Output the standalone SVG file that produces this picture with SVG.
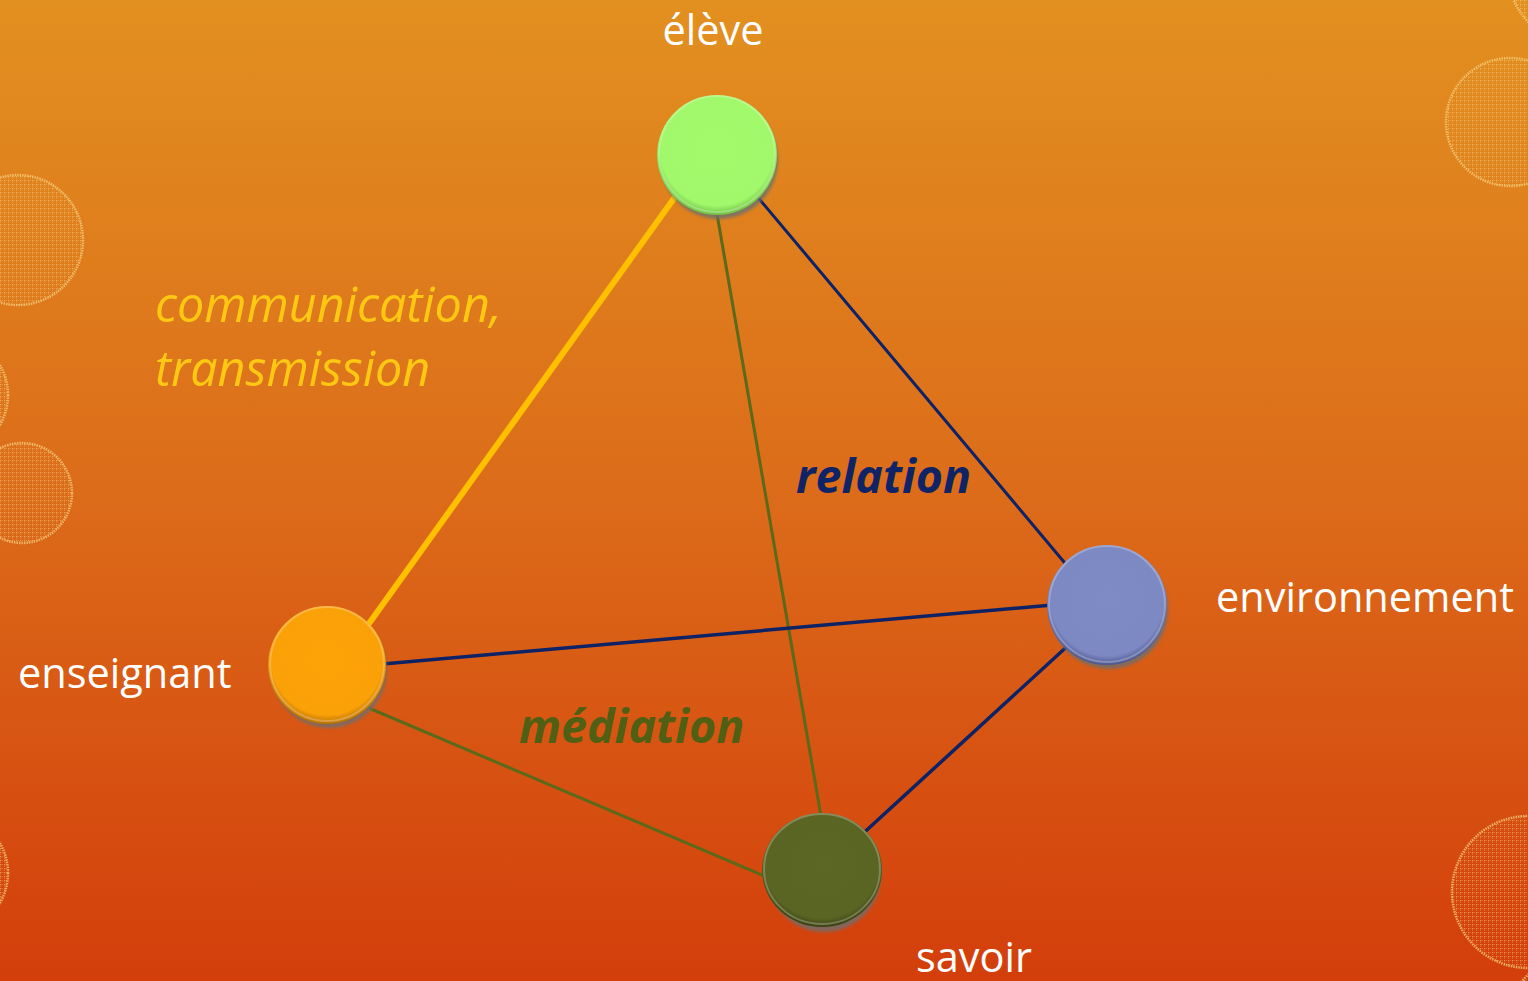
<svg xmlns="http://www.w3.org/2000/svg" width="1528" height="981" viewBox="0 0 1528 981">
  <defs>
    <linearGradient id="bg" x1="0" y1="0" x2="0" y2="1">
      <stop offset="0" stop-color="#E29020"/>
      <stop offset="0.5" stop-color="#DC6C1A"/>
      <stop offset="1" stop-color="#D33E0B"/>
    </linearGradient>
    <pattern id="dots" width="4" height="4" patternUnits="userSpaceOnUse">
      <rect x="0" y="0" width="1.3" height="1.3" fill="#F7D58A" opacity="0.55"/>
      <rect x="2" y="0" width="1" height="1" fill="#F7D58A" opacity="0.3"/>
      <rect x="0" y="2" width="1" height="1" fill="#F7D58A" opacity="0.3"/>
    </pattern>
    <radialGradient id="gGreen" cx="0.5" cy="0.45" r="0.55">
      <stop offset="0" stop-color="#A3FB6C"/>
      <stop offset="0.86" stop-color="#A0F86A"/>
      <stop offset="1" stop-color="#6FBF45"/>
    </radialGradient>
    <radialGradient id="gOrange" cx="0.5" cy="0.45" r="0.55">
      <stop offset="0" stop-color="#FDA308"/>
      <stop offset="0.86" stop-color="#FBA108"/>
      <stop offset="1" stop-color="#B87000"/>
    </radialGradient>
    <radialGradient id="gBlue" cx="0.5" cy="0.45" r="0.55">
      <stop offset="0" stop-color="#7F8BC5"/>
      <stop offset="0.86" stop-color="#7D89C2"/>
      <stop offset="1" stop-color="#4B5590"/>
    </radialGradient>
    <radialGradient id="gOlive" cx="0.5" cy="0.45" r="0.55">
      <stop offset="0" stop-color="#5C6726"/>
      <stop offset="0.86" stop-color="#5A6524"/>
      <stop offset="1" stop-color="#3A4212"/>
    </radialGradient>
    <filter id="soft" x="-20%" y="-20%" width="140%" height="140%">
      <feGaussianBlur stdDeviation="1.5"/>
    </filter>
  </defs>
  <style>
    .deco { fill: url(#dots); stroke: #F5CF7E; stroke-width: 2.5; stroke-dasharray: 1.5 1; stroke-opacity: 0.75; }
    .shadow { fill: #6E6E6E; opacity: 0.8; filter: url(#soft); }
    .rim { fill: none; stroke: #FFFFFF; stroke-opacity: 0.25; stroke-width: 2; }
    .lbl { font-family: "Open Sans", "Liberation Sans", sans-serif; font-size: 41.5px; fill: #FFFFFF; }
    .ital { font-family: "Open Sans", "Liberation Sans", sans-serif; font-style: italic; font-size: 48.5px; }
    .bold { font-weight: bold; font-size: 46.5px; }
  </style>

  <!-- background -->
  <rect x="0" y="0" width="1528" height="981" fill="url(#bg)"/>

  <!-- decorative dotted discs -->
  <g id="decor">
    <circle class="deco" cx="18" cy="240" r="65"/>
    <circle class="deco" cx="-52" cy="395" r="60"/>
    <circle class="deco" cx="22" cy="493" r="50"/>
    <circle class="deco" cx="-52" cy="873" r="60"/>
    <circle class="deco" cx="1510" cy="122" r="64"/>
    <circle class="deco" cx="1580" cy="-28" r="72"/>
    <circle class="deco" cx="1528" cy="892" r="76"/>
    <circle class="deco" cx="1590" cy="1040" r="90"/>
  </g>

  <!-- connectors -->
  <g id="connectors" stroke-linecap="round">
    <line x1="690" y1="176" x2="350" y2="650" stroke="#FFC000" stroke-width="6"/>
    <line x1="712" y1="185" x2="826" y2="845" stroke="#5A6A1A" stroke-width="3"/>
    <line x1="740" y1="176" x2="1085" y2="587" stroke="#0E2266" stroke-width="3"/>
    <line x1="360" y1="666" x2="1075" y2="603" stroke="#0E2266" stroke-width="3.5"/>
    <line x1="350" y1="700" x2="790" y2="887" stroke="#5A6A1A" stroke-width="3"/>
    <line x1="1085" y1="630" x2="845" y2="850" stroke="#0E2266" stroke-width="3.5"/>
  </g>

  <!-- nodes -->
  <g id="node-eleve">
    <circle class="shadow" cx="719" cy="160" r="59"/>
    <circle cx="717" cy="155" r="60" fill="url(#gGreen)"/>
    <circle class="rim" cx="717" cy="154" r="58"/>
    <text class="lbl" x="713" y="45" text-anchor="middle">élève</text>
  </g>

  <g id="node-enseignant">
    <circle class="shadow" cx="329" cy="670" r="58"/>
    <circle cx="327" cy="665" r="59" fill="url(#gOrange)"/>
    <circle class="rim" cx="327" cy="664" r="57"/>
    <text class="lbl" x="18" y="688">enseignant</text>
  </g>

  <g id="node-environnement">
    <circle class="shadow" cx="1109" cy="610" r="59"/>
    <circle cx="1107" cy="605" r="60" fill="url(#gBlue)"/>
    <circle class="rim" cx="1107" cy="604" r="58"/>
    <text class="lbl" x="1216" y="612">environnement</text>
  </g>

  <g id="node-savoir">
    <circle class="shadow" cx="824" cy="875" r="57"/>
    <ellipse cx="822" cy="870" rx="60" ry="57" fill="url(#gOlive)"/>
    <ellipse class="rim" cx="822" cy="869" rx="58" ry="55" stroke-opacity="0.15"/>
    <text class="lbl" x="916" y="972">savoir</text>
  </g>

  <!-- edge labels -->
  <g id="labels">
    <text class="ital" x="155" y="322" fill="#FFC813">communication,</text>
    <text class="ital" x="155" y="386" fill="#FFC813">transmission</text>
    <text class="ital bold" x="796" y="493" fill="#0F2466">relation</text>
    <text class="ital bold" x="519" y="743" fill="#4F5F14">médiation</text>
  </g>
</svg>
